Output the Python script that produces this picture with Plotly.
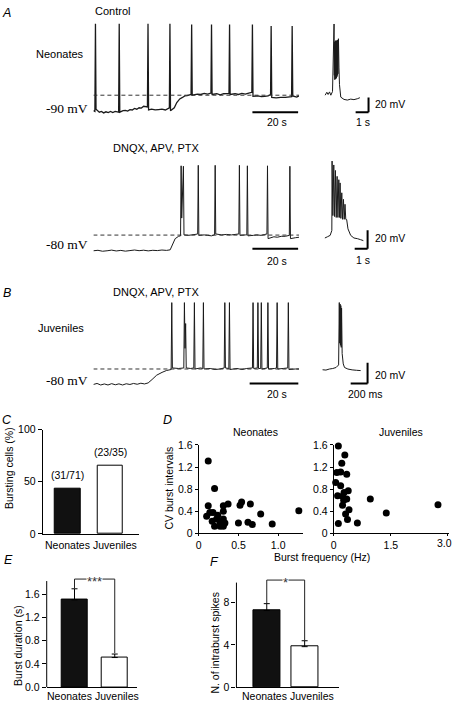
import plotly.graph_objects as go

W, H = 453, 708
SANS = "Liberation Sans, Arial, sans-serif"
SERIF = "Liberation Serif, Times New Roman, serif"
INK = "#1a1a1a"

# ---------------- Panel A: neonates, control  (time s, Vm mV) ----------------
a1 = [(0, -88), (0.65, -89),
      (0.9, 30), (1.15, -86),
      (2.6, -90), (3.5, -89), (4.5, -91), (5.5, -89.5), (6.5, -90.5), (7.5, -89), (8.5, -90.5),
      (9.5, -89), (11.05, -90),
      (11.3, 30), (11.55, -90),
      (13, -88), (14, -87.5), (15, -88.5), (16, -86.5), (17, -87), (18, -85), (19, -86),
      (20, -84), (21, -84.5), (22, -82), (23.65, -83),
      (23.9, 30), (24.15, -87),
      (25.5, -86), (27, -87), (28.5, -86.5), (30, -86), (31.5, -87), (33.25, -84),
      (33.5, 30), (33.75, -88),
      (35.4, -84), (36.5, -77), (37.8, -72), (39, -70), (40, -68), (41, -67.5), (42.75, -66),
      (43, 29), (43.25, -67),
      (45.5, -65.5), (47, -66), (48.5, -64.5), (50, -65.5), (51.45, -64),
      (51.7, 29), (51.95, -66),
      (54, -65), (55.5, -66.5), (57, -65), (59.35, -64.5),
      (59.6, 29), (59.85, -66),
      (62, -65), (63.5, -66), (65, -64.5), (66.5, -65.5), (68, -64), (69.35, -63),
      (69.6, 29), (69.85, -68.5),
      (72, -68), (73.5, -69), (75, -68.5), (76.5, -68), (77.55, -66),
      (77.8, 27), (78.05, -70),
      (80, -70.5), (82, -70), (84, -70), (86.75, -69),
      (87, 27), (87.25, -68),
      (89, -69.5), (90, -68)]

# burst on expanded time scale (s, mV)
a1_burst = [(0, -67), (0.13, -63), (0.23, -66), (0.34, -62.5), (0.44, -67), (0.57, -62),
            (0.69, 29.6), (0.71, -40), (0.73, 5), (0.75, -46), (0.77, 6), (0.79, -45),
            (0.81, 7), (0.83, -44), (0.85, 6), (0.87, -44), (0.89, 7), (0.91, -42),
            (0.93, 7), (0.95, -40), (0.97, 8), (0.99, -38), (1.03, 9.6), (1.07, -30),
            (1.11, -52.7), (1.21, -69.6), (1.46, -72.7), (1.72, -73.6), (1.98, -72.3),
            (2.23, -73), (2.49, -71.8), (2.69, -70.4)]

# ---------------- Panel A: neonates, DNQX/APV/PTX ----------------
a2 = [(0, -80), (2, -79.5), (4, -80.5), (6, -80), (8, -79.3), (10, -80.2), (12, -79.6),
      (14, -80.4), (16, -79.8), (18, -79.2), (20, -79.9), (22, -79.4), (24, -80.1),
      (26, -79.5), (28, -79.8), (30, -79.2), (32, -79.6), (33.6, -79), (35.8, -67),
      (37.3, -64.5), (38.15, -64),
      (38.4, 11), (38.65, -45), (39.4, 10.5), (39.65, -63),
      (41.5, -63.5), (43, -63), (44.5, -62.5), (45.65, -62),
      (45.9, 11.5), (46.15, -63.5),
      (48.5, -63), (50, -63.5), (51.7, -64), (53.05, -63),
      (53.3, 11.5), (53.55, -62),
      (56.1, -63), (58.3, -62.5), (60.4, -63), (62, -62.5), (63.65, -62),
      (63.9, 11.5), (64.15, -63.5),
      (66.5, -63), (67.15, -63),
      (67.4, 11), (67.65, -64),
      (70, -63.5), (71.5, -63), (73.5, -63.5), (75, -62.5), (75.95, -62),
      (76.2, 11), (76.45, -67),
      (79, -65), (80.5, -65.5), (82.2, -64.5), (84, -64.5), (85.75, -63.5),
      (86.0, 10.5), (86.25, -67),
      (88.5, -66), (90, -65.5)]

a2_burst = [(0, -75), (0.21, -73.6), (0.41, -72.2), (0.54, -66.9), (0.56, 7.4), (0.62, -51),
            (0.69, 3.2), (0.75, -52), (0.82, -2.7), (0.88, -53), (0.95, -9), (1.01, -53),
            (1.08, -12.6), (1.13, -53), (1.18, -16), (1.24, -54), (1.31, -26.6), (1.37, -55),
            (1.44, -33.6), (1.5, -55), (1.56, -38.9), (1.62, -55), (1.69, -55.3),
            (1.79, -65.2), (2.0, -72.2), (2.25, -75), (2.52, -75.7), (2.77, -76.8),
            (2.98, -77.8)]

# ---------------- Panel B: juveniles, DNQX/APV/PTX ----------------
b1 = [(0, -80), (1.5, -79), (3, -80.5), (4.5, -79.5), (6, -80.5), (7.5, -79.2), (9, -80.3),
      (10.5, -79.4), (12, -80.5), (13.5, -79.3), (15, -80), (16.5, -79), (18, -79.8),
      (19.5, -78.8), (21, -79.5), (22.5, -78.5), (24.1, -75.2), (26, -71), (28.2, -68.3),
      (30, -66.5), (31.95, -65.5),
      (32.2, -0.7), (32.45, -64),
      (35, -64.5), (37.15, -64),
      (37.4, -0.7), (37.65, -45), (37.9, -21), (38.15, -64),
      (40, -64.5), (41.25, -64),
      (41.5, -0.7), (41.75, -65),
      (44, -64), (44.95, -64.5),
      (45.2, -0.7), (45.45, -65),
      (48, -64.5), (50, -65.5), (52, -65), (53.75, -64),
      (54.0, -0.7), (54.25, -64),
      (55.65, -64.5),
      (55.9, -0.7), (56.15, -65.5),
      (59, -64.5), (61, -65.5), (63, -64.5), (65.35, -64),
      (65.6, -0.7), (65.85, -64.5),
      (67.35, -64),
      (67.6, -0.7), (67.85, -64.5),
      (68.75, -64.5),
      (69.0, -0.7), (69.25, -65),
      (71.45, -64),
      (71.7, -0.7), (71.95, -65),
      (74.5, -64.5), (75.25, -64),
      (75.5, -0.7), (75.75, -65),
      (78, -64.5), (79.85, -64),
      (80.1, -0.7), (80.35, -65.5),
      (83, -65), (84.5, -65)]

# burst on expanded time scale (ms, mV)
b1_burst = [(0, -65.7), (40, -66), (80, -65), (120, -64.5), (160, -63.5), (190, -61),
            (198, -0.6), (203, -40), (207, -2), (212, -42), (216, -3.5), (221, -44),
            (225, -6), (232, -50), (245, -60), (260, -63.5), (300, -65), (350, -65.8),
            (400, -66.2), (451, -66.5)]

# ---------------- Panels C-F ----------------
groups = ["Neonates", "Juveniles"]
bursting_pct = [43.7, 65.7]
bursting_lbl = ["(31/71)", "(23/35)"]

neo_freq = [0.12, 0.20, 0.12, 0.10, 0.14, 0.18, 0.225, 0.20, 0.27, 0.31, 0.31, 0.37, 0.31,
            0.31, 0.33, 0.27, 0.50, 0.52, 0.54, 0.65, 0.62, 0.675, 0.78, 0.925, 1.26,
            0.24, 0.17]
neo_cv = [1.31, 0.81, 0.50, 0.31, 0.38, 0.38, 0.26, 0.13, 0.20, 0.13, 0.50, 0.53, 0.40,
          0.26, 0.19, 0.13, 0.19, 0.51, 0.57, 0.53, 0.20, 0.16, 0.35, 0.17, 0.41,
          0.33, 0.22]
juv_freq = [0.12, 0.29, 0.21, 0.08, 0.18, 0.34, 0.05, 0.18, 0.38, 0.27, 0.10, 0.23, 0.34,
            0.26, 0.23, 0.40, 0.31, 0.36, 0.12, 0.62, 0.96, 1.38, 2.74]
juv_cv = [1.58, 1.42, 1.27, 1.10, 1.11, 1.07, 0.92, 0.86, 0.77, 0.74, 0.68, 0.67, 0.62,
          0.60, 0.51, 0.43, 0.35, 0.25, 0.18, 0.19, 0.62, 0.37, 0.52]

burst_dur = [1.5, 0.51]
burst_dur_sem = [0.19, 0.06]
n_spikes = [7.26, 3.84]
n_spikes_sem = [0.65, 0.56]

bar_fill = ["#111111", "white"]


# ---------------- helpers ----------------
def xd(a, b):
    return [a / W, b / W]


def yd(top, bottom):
    return [1 - bottom / H, 1 - top / H]


def ann(text, x, y, xanchor="center", size=10.5, family=SANS, angle=0, **kw):
    d = dict(text=text, x=x / W, y=1 - y / H, xref="paper", yref="paper",
             xanchor=xanchor, yanchor="middle", showarrow=False, textangle=angle,
             font=dict(family=family, size=size, color="black"))
    d.update(kw)
    return d


fig = go.Figure()


def trace(pairs, ax, width=1):
    fig.add_trace(go.Scatter(x=[p[0] for p in pairs], y=[p[1] for p in pairs], mode="lines",
                             line=dict(color=INK, width=width, simplify=False),
                             xaxis="x" + ax, yaxis="y" + ax, hoverinfo="skip"))


trace(a1, "", width=1.3)
trace(a1_burst, "2")
trace(a2, "3")
trace(a2_burst, "4")
trace(b1, "5")
trace(b1_burst, "6")

# C bars
fig.add_trace(go.Bar(x=[0, 1], y=bursting_pct, width=0.6, xaxis="x7", yaxis="y7",
                     marker=dict(color=bar_fill, line=dict(color="black", width=1))))
# D scatter
fig.add_trace(go.Scatter(x=neo_freq, y=neo_cv, mode="markers", xaxis="x8", yaxis="y8",
                         marker=dict(color="black", size=7), cliponaxis=False))
fig.add_trace(go.Scatter(x=juv_freq, y=juv_cv, mode="markers", xaxis="x9", yaxis="y9",
                         marker=dict(color="black", size=7), cliponaxis=False))
# E bars
fig.add_trace(go.Bar(x=[0, 1], y=burst_dur, width=0.64, xaxis="x10", yaxis="y10",
                     marker=dict(color=bar_fill, line=dict(color="black", width=1)),
                     error_y=dict(type="data", symmetric=False, array=burst_dur_sem,
                                  arrayminus=[0, 0], color="black", thickness=1, width=3)))
fig.add_trace(go.Scatter(x=[0, 0, 1, 1], y=[1.70, 1.857, 1.857, 0.585], mode="lines",
                         line=dict(color="#222", width=1), xaxis="x10", yaxis="y10"))
# F bars
fig.add_trace(go.Bar(x=[0, 1], y=n_spikes, width=0.71, xaxis="x11", yaxis="y11",
                     marker=dict(color=bar_fill, line=dict(color="black", width=1)),
                     error_y=dict(type="data", symmetric=False, array=n_spikes_sem,
                                  arrayminus=[0, 0], color="black", thickness=1, width=3)))
fig.add_trace(go.Scatter(x=[0, 0, 1, 1], y=[7.95, 10.14, 10.14, 4.45], mode="lines",
                         line=dict(color="#222", width=1), xaxis="x11", yaxis="y11"))

hidden = dict(visible=False, fixedrange=True)
tickfont = dict(family=SANS, size=10.5, color="black")
vis = dict(showline=True, linecolor="black", linewidth=1, showgrid=False, zeroline=False,
           tickfont=tickfont, fixedrange=True, tickcolor="black", tickangle=0)

layout = dict(
    xaxis=dict(hidden, domain=xd(91, 298), range=[0, 90], anchor="y"),
    yaxis=dict(hidden, domain=yd(12, 112), range=[-95.33, 38], anchor="x"),
    xaxis2=dict(hidden, domain=xd(320, 375), range=[-0.331, 3.9], anchor="y2"),
    yaxis2=dict(hidden, domain=yd(12, 112), range=[-95.33, 38], anchor="x2"),
    xaxis3=dict(hidden, domain=xd(91, 298), range=[0, 90], anchor="y3"),
    yaxis3=dict(hidden, domain=yd(150, 255), range=[-86.32, 24.21], anchor="x3"),
    xaxis4=dict(hidden, domain=xd(320, 375), range=[-0.308, 3.923], anchor="y4"),
    yaxis4=dict(hidden, domain=yd(150, 255), range=[-95, 15.53], anchor="x4"),
    xaxis5=dict(hidden, domain=xd(91, 298), range=[0, 84.49], anchor="y5"),
    yaxis5=dict(hidden, domain=yd(295, 392), range=[-86.67, 5.71], anchor="x5"),
    xaxis6=dict(hidden, domain=xd(318, 375), range=[-43.5, 627.1], anchor="y6"),
    yaxis6=dict(hidden, domain=yd(295, 392), range=[-86.62, 5.76], anchor="x6"),
    xaxis7=dict(vis, domain=xd(40, 137), range=[-0.58, 1.676], anchor="y7",
                showticklabels=False, ticks=""),
    yaxis7=dict(vis, domain=yd(431, 537), range=[0, 100], anchor="x7",
                tickvals=[0, 50, 100], ticks="outside", ticklen=4),
    xaxis8=dict(vis, domain=xd(197, 302), range=[0, 1.3125], anchor="y8",
                tickvals=[0, 0.5, 1.0], ticktext=["0", "0.5", "1.0"], ticks="outside", ticklen=2),
    yaxis8=dict(vis, domain=yd(446.5, 536.5), range=[0, 1.6], anchor="x8",
                tickvals=[0, 0.4, 0.8, 1.2, 1.6], ticktext=["0", "0.4", "0.8", "1.2", "1.6"],
                ticks="outside", ticklen=3),
    xaxis9=dict(vis, domain=xd(333, 449), range=[0, 3.03], anchor="y9",
                tickvals=[0, 1.5, 3.0], ticktext=["0", "1.5", ""], ticks="outside", ticklen=2),
    yaxis9=dict(vis, domain=yd(446.5, 536.5), range=[0, 1.6], anchor="x9",
                tickvals=[0, 0.4, 0.8, 1.2, 1.6], ticktext=["0", "0.4", "0.8", "1.2", "1.6"],
                ticks="outside", ticklen=3),
    xaxis10=dict(vis, domain=xd(44, 135), range=[-0.691, 1.556], anchor="y10",
                 showticklabels=False, ticks=""),
    yaxis10=dict(vis, domain=yd(580.4, 693), range=[0, 1.9], anchor="x10", showline=False,
                 tickvals=[0, 0.4, 0.8, 1.2, 1.6], ticktext=["0.0", "0.4", "0.8", "1.2", "1.6"],
                 ticks="outside", ticklen=4),
    xaxis11=dict(vis, domain=xd(235, 338), range=[-0.8, 1.9], anchor="y11",
                 showticklabels=False, ticks=""),
    yaxis11=dict(vis, domain=yd(580.1, 693), range=[0, 10.5], anchor="x11", showline=False,
                 tickvals=[0, 4, 8], ticks="outside", ticklen=4),
)


def seg(xr, yr, x0, x1, y0, y1, width=2, dash=None, color="black"):
    ln = dict(color=color, width=width)
    if dash:
        ln["dash"] = dash
    return dict(type="line", xref=xr, yref=yr, x0=x0, x1=x1, y0=y0, y1=y1, line=ln)


shapes = [
    # scale bars
    seg("x", "y", 69.6, 89.6, -90, -90),
    seg("x2", "y2", 3.36, 3.36, -90, -70), seg("x2", "y2", 2.36, 3.36, -90, -90),
    seg("x3", "y3", 69.6, 89.6, -77.9, -77.9),
    seg("x4", "y4", 3.31, 3.31, -86.58, -66.58), seg("x4", "y4", 2.31, 3.31, -86.58, -86.58),
    seg("x5", "y5", 64.2, 84.2, -79.05, -79.05),
    seg("x6", "y6", 533, 533, -79, -59), seg("x6", "y6", 333, 533, -79, -79),
    # dashed reference levels
    seg("x", "y", 0, 90, -67, -67, width=1, dash="4px,3px", color="#333"),
    seg("x3", "y3", 0, 90, -63.2, -63.2, width=1, dash="4px,3px", color="#333"),
    seg("x5", "y5", 0, 84.49, -65, -65, width=1, dash="4px,3px", color="#333"),
    # left axis lines of E and F
    seg("x10 domain", "y10", 0, 0, 0, 1.823, width=1),
    seg("x11 domain", "y11", 0, 0, 0, 9.9, width=1),
]

annotations = [
    ann("<i>A</i>", 4, 7, size=12.5),
    ann("Control", 91, 5, xanchor="left", size=11),
    ann("Neonates", 57, 49, size=11),
    ann("-90 mV", 88, 104, xanchor="right", size=13.5, family=SERIF),
    ann("20 s", 276, 118),
    ann("20 mV", 372, 100, xanchor="left"),
    ann("1 s", 362, 118),
    ann("DNQX, APV, PTX", 109, 144, xanchor="left", size=11),
    ann("-80 mV", 88, 243, xanchor="right", size=13.5, family=SERIF),
    ann("20 s", 276, 259),
    ann("20 mV", 372, 236, xanchor="left"),
    ann("1 s", 362, 258),
    ann("<i>B</i>", 4, 292, size=12.5),
    ann("DNQX, APV, PTX", 109, 291, xanchor="left", size=11),
    ann("Juveniles", 58, 328, size=11),
    ann("-80 mV", 88, 381, xanchor="right", size=13.5, family=SERIF),
    ann("20 s", 276, 395),
    ann("20 mV", 372, 375, xanchor="left"),
    ann("200 ms", 364, 395),
    ann("<i>C</i>", 4, 421, size=12.5),
    ann("<i>D</i>", 166, 421, size=12.5),
    ann("Neonates", 254, 433),
    ann("Juveniles", 401, 433),
    ann("Bursting cells (%)", 6, 470, angle=-90),
    ann("CV burst intervals", 167, 490, angle=-90),
    ann("Burst frequency (Hz)", 321, 561),
    ann("3.0", 453, 546.5, xanchor="right", borderpad=0),
    ann("<i>E</i>", 6, 564, size=12.5),
    ann("<i>F</i>", 213, 566, size=12.5),
    ann("Burst duration (s)", 15, 650, angle=-90),
    ann("N. of intraburst spikes", 213, 648, angle=-90),
    # category labels under the bar charts
    ann(groups[0], 65, 548), ann(groups[1], 113, 548),
    ann(groups[0], 67, 702), ann(groups[1], 115, 702),
    ann(groups[0], 263, 702), ann(groups[1], 311, 702),
]
for xv, yv, lbl in zip([0, 1], bursting_pct, bursting_lbl):
    annotations.append(dict(text=lbl, x=xv, y=yv, xref="x7", yref="y7", yanchor="bottom",
                            yshift=5, showarrow=False,
                            font=dict(family=SANS, size=10.5, color="black")))
annotations.append(dict(text="***", x=0.5, y=1.857, xref="x10", yref="y10", showarrow=False,
                        bgcolor="white", yshift=-2, borderpad=0,
                        font=dict(family=SANS, size=13, color="#333")))
annotations.append(dict(text="*", x=0.5, y=10.14, xref="x11", yref="y11", showarrow=False,
                        bgcolor="white", yshift=-2, borderpad=0,
                        font=dict(family=SANS, size=13, color="#333")))

fig.update_layout(width=W, height=H, margin=dict(l=0, r=0, t=0, b=0), showlegend=False,
                  paper_bgcolor="white", plot_bgcolor="rgba(0,0,0,0)", bargap=0,
                  shapes=shapes, annotations=annotations, **layout)

fig.write_html("out.html", config={"displayModeBar": False},
               post_script="document.body.style.margin='0';document.body.style.padding='0';"
                           "document.documentElement.style.overflow='hidden';")
